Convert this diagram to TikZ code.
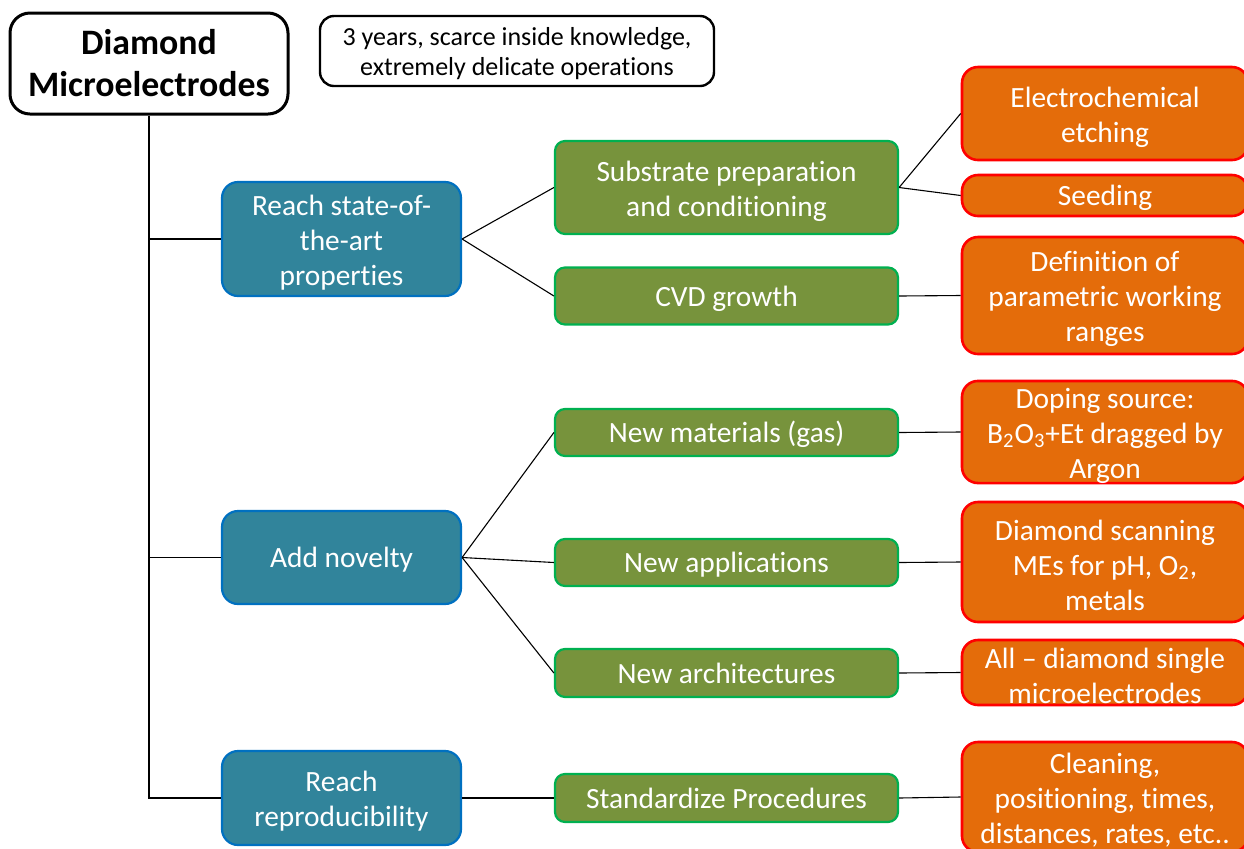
\documentclass[tikz,border=0pt]{standalone}
\usepackage{fontspec}
\setmainfont{Carlito}[Ligatures={NoCommon}]
\definecolor{tealfill}{HTML}{31849B}
\definecolor{tealline}{HTML}{0070C0}
\definecolor{olivefill}{HTML}{77933C}
\definecolor{oliveline}{HTML}{00B050}
\definecolor{orangefill}{HTML}{E46C0A}
\definecolor{orangeline}{HTML}{FF0000}
% fixed first-line height and depth so every label sits at the same level
\newcommand{\ls}{\rule[-0.24em]{0pt}{1.16em}}
\tikzset{
  wh/.style 2 args={minimum width=#1*0.5pt, minimum height=#2*0.5pt},
  basebox/.style={rectangle, inner sep=0pt, align=center},
  titlebox/.style={basebox, draw=black, line width=1.5pt, fill=white, rounded corners=10pt,
    font=\fontsize{17.9}{21}\selectfont\bfseries},
  notebox/.style={basebox, draw=black, line width=1.2pt, fill=white, rounded corners=7pt,
    font=\fontsize{13}{15}\selectfont},
  whitetext/.style={basebox, text=white, font=\fontsize{14.7}{17.5}\selectfont},
  goalbox/.style={whitetext, draw=tealline, line width=1.1pt, fill=tealfill, rounded corners=8pt},
  taskbox/.style={whitetext, draw=oliveline, line width=1.1pt, fill=olivefill, rounded corners=5pt},
  resultbox/.style={whitetext, draw=orangeline, line width=1.3pt, fill=orangefill, rounded corners=8pt},
  link/.style={draw=black, line width=0.55pt}
}
\begin{document}
\begin{tikzpicture}[x=0.5pt, y=-0.5pt]
\useasboundingbox (0,0) rectangle (1244,848);

% root and note
\node[titlebox, wh={278}{101}] (root) at (149,63.5) {Diamond\\Microelectrodes};
\node[notebox, wh={394}{70}] (note) at (517,51) {\ls 3 years, scarce inside knowledge,\\extremely delicate operations};

% goals
\node[goalbox, wh={239}{114}] (g1) at (341.5,239) {\ls Reach state-of-\\the-art\\properties};
\node[goalbox, wh={239}{93}] (g2) at (341.5,557.5) {\ls Add novelty};
\node[goalbox, wh={239}{94}] (g3) at (341.5,798) {\ls Reach\\reproducibility};

% tasks
\node[taskbox, wh={343}{93}] (t1) at (726.5,187.5) {\ls Substrate preparation\\and conditioning};
\node[taskbox, wh={343}{57}] (t2) at (726.5,296) {\ls CVD growth};
\node[taskbox, wh={343}{47}] (t3) at (726.5,432.5) {\ls New materials (gas)};
\node[taskbox, wh={343}{47}] (t4) at (726.5,562.5) {\ls New applications};
\node[taskbox, wh={343}{48}] (t5) at (726.5,673) {\ls New architectures};
\node[taskbox, wh={343}{48}] (t6) at (726.5,798) {\ls Standardize Procedures};

% results
\node[resultbox, wh={286}{93}] (r1) at (1105,113.5) {\ls Electrochemical\\etching};
\node[resultbox, wh={286}{41}] (r2) at (1105,195.5) {\ls Seeding};
\node[resultbox, wh={286}{117}] (r3) at (1105,295.5) {\ls Definition of\\parametric working\\ranges};
\node[resultbox, wh={286}{102}] (r4) at (1105,432) {\ls Doping source:\\B\textsubscript{2}O\textsubscript{3}+Et dragged by\\Argon};
\node[resultbox, wh={286}{120}] (r5) at (1105,562) {\ls Diamond scanning\\MEs for pH, O\textsubscript{2},\\metals};
\node[resultbox, wh={286}{65}] (r6) at (1105,672.5) {\ls All – diamond single\\microelectrodes};
\node[resultbox, wh={286}{110}] (r7) at (1105,797) {\ls Cleaning,\\positioning, times,\\distances, rates, etc..};

% trunk
\draw[link] (root.south) |- (g3.west);
\draw[link] (root.south |- g1.west) -- (g1.west);
\draw[link] (root.south |- g2.west) -- (g2.west);

% goals to tasks
\draw[link] (g1.east) -- (t1.west);
\draw[link] (g1.east) -- (t2.west);
\draw[link] (g2.east) -- (t3.west);
\draw[link] (g2.east) -- (t4.west);
\draw[link] (g2.east) -- (t5.west);
\draw[link] (g3.east) -- (t6.west);

% tasks to results
\draw[link] (t1.east) -- (r1.west);
\draw[link] (t1.east) -- (r2.west);
\draw[link] (t2.east) -- (r3.west);
\draw[link] (t3.east) -- (r4.west);
\draw[link] (t4.east) -- (r5.west);
\draw[link] (t5.east) -- (r6.west);
\draw[link] (t6.east) -- (r7.west);
\end{tikzpicture}
\end{document}
